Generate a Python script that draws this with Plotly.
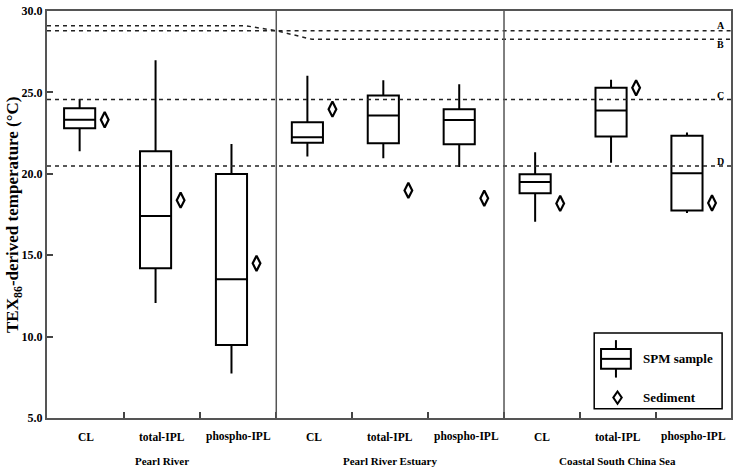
import plotly.graph_objects as go

# ---------------- data ----------------
groups = ["Pearl River", "Pearl River Estuary", "Coastal South China Sea"]
lipids = ["CL", "total-IPL", "phospho-IPL"]
categories = [l for g in groups for l in lipids]

upper_whisker = [24.59, 26.97, 21.83, 26.02, 25.74, 25.50, 21.33, 25.78, 22.54]
q3_values     = [24.03, 21.39, 19.99, 23.16, 24.81, 23.97, 19.97, 25.28, 22.33]
medians       = [23.32, 17.41, 13.52, 22.25, 23.58, 23.30, 19.49, 23.89, 20.03]
q1_values     = [22.80, 14.20,  9.48, 21.91, 21.87, 21.81, 18.80, 22.29, 17.75]
lower_whisker = [21.39, 12.06,  7.74, 21.06, 20.96, 20.42, 17.05, 20.68, 17.59]
sediment      = [23.32, 18.38, 14.50, 23.97, 18.98, 18.50, 18.18, 25.28, 18.21]

# reference temperature lines (x in category units, y in deg C)
line_A_x = [-0.43, 2.19, 2.59, 8.58]
line_A_y = [29.09, 29.09, 28.79, 28.79]
line_B_x = [-0.43, 2.59, 3.06, 8.58]
line_B_y = [28.79, 28.79, 28.26, 28.26]
line_C = 24.57
line_D = 20.48
ref_labels = ["A", "B", "C", "D"]

y_ticks = [5.0, 10.0, 15.0, 20.0, 25.0, 30.0]

# ---------------- figure ----------------
FONT = "Liberation Serif"
xpos = list(range(len(categories)))
x_range = [-0.43, 8.58]
sed_offset = 0.33
boundaries = [i + 0.59 for i in range(len(categories) - 1)]
dividers = [boundaries[2], boundaries[5]]

fig = go.Figure()

# dashed reference lines
dash = "4px,4px"
fig.add_trace(go.Scatter(x=line_A_x, y=line_A_y, mode="lines",
                         line=dict(color="#222", width=1.5, dash=dash),
                         showlegend=False, hoverinfo="skip"))
fig.add_trace(go.Scatter(x=line_B_x, y=line_B_y, mode="lines",
                         line=dict(color="#222", width=1.5, dash=dash),
                         showlegend=False, hoverinfo="skip"))
for yv in (line_C, line_D):
    fig.add_trace(go.Scatter(x=x_range, y=[yv, yv], mode="lines",
                             line=dict(color="#222", width=1.5, dash=dash),
                             showlegend=False, hoverinfo="skip"))

# boxes
fig.add_trace(go.Box(
    x=xpos, q1=q1_values, median=medians, q3=q3_values,
    lowerfence=lower_whisker, upperfence=upper_whisker,
    width=0.41, whiskerwidth=0, boxpoints=False,
    line=dict(color="black", width=2), fillcolor="rgba(255,255,255,0)",
    showlegend=False))

# sediment diamonds
fig.add_trace(go.Scatter(
    x=[x + sed_offset for x in xpos], y=sediment, mode="markers",
    marker=dict(symbol="diamond-tall-open", size=11, color="black",
                line=dict(color="black", width=2.2)),
    showlegend=False))

shapes = []
for d in dividers:
    shapes.append(dict(type="line", xref="x", yref="paper", x0=d, x1=d, y0=0, y1=1,
                       line=dict(color="#555", width=1.5)))

# legend (manual)
lx0, lx1, ly0, ly1 = 0.800, 0.987, 0.0225, 0.209
shapes.append(dict(type="rect", xref="paper", yref="paper", x0=lx0, x1=lx1, y0=ly0, y1=ly1,
                   line=dict(color="black", width=1.5), fillcolor="white"))
bx0, bx1, bxc = 0.810, 0.8536, 0.8318
shapes.append(dict(type="line", xref="paper", yref="paper", x0=bxc, x1=bxc, y0=0.1695, y1=0.1913,
                   line=dict(color="black", width=2)))
shapes.append(dict(type="line", xref="paper", yref="paper", x0=bxc, x1=bxc, y0=0.0993, y1=0.1211,
                   line=dict(color="black", width=2)))
shapes.append(dict(type="rect", xref="paper", yref="paper", x0=bx0, x1=bx1, y0=0.1211, y1=0.1695,
                   line=dict(color="black", width=2)))
shapes.append(dict(type="line", xref="paper", yref="paper", x0=bx0, x1=bx1, y0=0.1453, y1=0.1453,
                   line=dict(color="black", width=2)))
dx, dy, cx, cy = 0.0062, 0.0150, 0.8341, 0.0501
shapes.append(dict(type="path", xref="paper", yref="paper",
                   path=f"M {cx},{cy+dy} L {cx+dx},{cy} L {cx},{cy-dy} L {cx-dx},{cy} Z",
                   line=dict(color="black", width=2)))

annotations = []
annotations.append(dict(xref="paper", yref="paper", x=0.868, y=0.145, text="SPM sample",
                        showarrow=False, xanchor="left", yanchor="middle",
                        font=dict(family=FONT, size=13, color="black", weight="bold")))
annotations.append(dict(xref="paper", yref="paper", x=0.868, y=0.051, text="Sediment",
                        showarrow=False, xanchor="left", yanchor="middle",
                        font=dict(family=FONT, size=13, color="black", weight="bold")))

# reference line labels
ref_y = [line_A_y[-1], line_B_y[-1], line_C, line_D]
ref_shift = [5, -5, 4, 4]
for lab, yv, sh in zip(ref_labels, ref_y, ref_shift):
    annotations.append(dict(xref="paper", yref="y", x=0.985, y=yv, yshift=sh, text=lab,
                            showarrow=False, xanchor="center", yanchor="middle",
                            font=dict(family=FONT, size=10, color="black", weight="bold")))

# category labels
for i, c in enumerate(categories):
    annotations.append(dict(xref="x", yref="paper", x=i + 0.09, y=-0.046, text=c,
                            showarrow=False, xanchor="center", yanchor="middle",
                            font=dict(family=FONT, size=11.5, color="black", weight="bold")))
# group labels
edges = [x_range[0]] + dividers + [x_range[1]]
for g, (a, b) in zip(groups, zip(edges[:-1], edges[1:])):
    annotations.append(dict(xref="x", yref="paper", x=(a + b) / 2, y=-0.106, text=g,
                            showarrow=False, xanchor="center", yanchor="middle",
                            font=dict(family=FONT, size=11, color="black", weight="bold")))

# y title
annotations.append(dict(xref="paper", yref="paper", x=-0.049, y=0.5,
                        text="TEX<sub>86</sub>-derived temperature (°C)", textangle=-90,
                        showarrow=False, xanchor="center", yanchor="middle",
                        font=dict(family=FONT, size=17, color="black", weight="bold")))

fig.update_layout(
    width=737, height=470,
    margin=dict(l=47, r=4, t=5, b=52),
    plot_bgcolor="white", paper_bgcolor="white",
    shapes=shapes, annotations=annotations,
    showlegend=False,
    xaxis=dict(range=x_range, showgrid=False, zeroline=False,
               tickmode="array", tickvals=boundaries, showticklabels=False,
               ticks="inside", ticklen=6, tickwidth=1.5, tickcolor="#444",
               showline=True, linecolor="#555", linewidth=2, mirror=True),
    yaxis=dict(range=[5, 30], showgrid=False, zeroline=False,
               tickmode="array", tickvals=y_ticks, tickformat=".1f",
               ticks="inside", ticklen=6, tickwidth=1.5, tickcolor="#444",
               ticklabeloverflow="allow",
               tickfont=dict(family=FONT, size=12, color="black", weight="bold"),
               showline=True, linecolor="#555", linewidth=2, mirror=True),
)

fig.write_html("out.html", config={"displayModeBar": False},
               post_script="document.body.style.margin='0';document.body.style.overflow='hidden';")
